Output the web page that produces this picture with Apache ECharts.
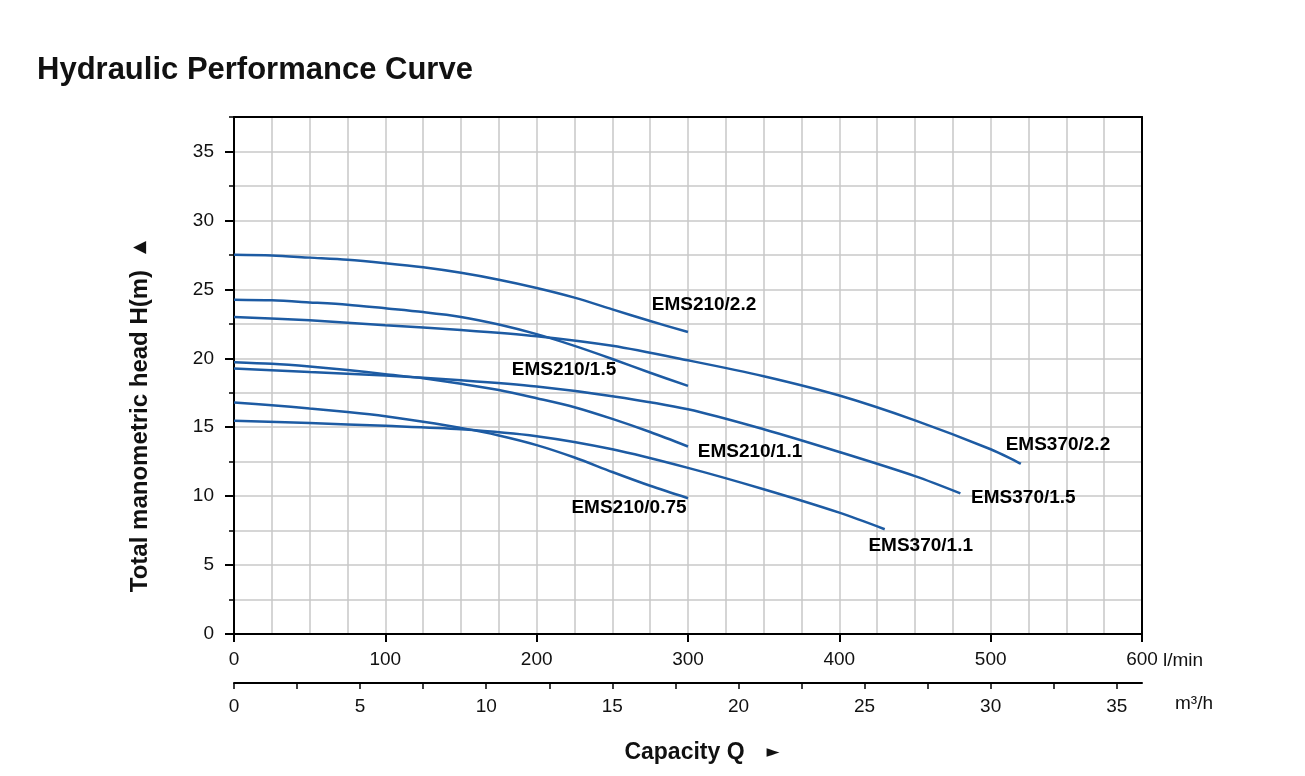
<!DOCTYPE html>
<html>
<head>
<meta charset="utf-8">
<title>Hydraulic Performance Curve</title>
<script src="https://cdn.jsdelivr.net/npm/echarts@6/dist/echarts.min.js"></script>
<style>
  html, body { margin: 0; padding: 0; background: #fff; }
  #main { width: 1305px; height: 776px; }
</style>
</head>
<body>
<div id="main"></div>
<script>
// capacity in l/min, head in m
const q210 = [0, 25, 50, 75, 100, 125, 150, 175, 200, 225, 250, 275, 300];
const h210_22 = [27.5, 27.45, 27.3, 27.15, 26.9, 26.6, 26.2, 25.7, 25.1, 24.4, 23.55, 22.7, 21.9];
const h210_15 = [24.25, 24.2, 24.05, 23.88, 23.62, 23.35, 23.0, 22.45, 21.75, 20.9, 19.95, 18.95, 18.0];
const h210_11 = [19.72, 19.6, 19.4, 19.15, 18.85, 18.55, 18.15, 17.7, 17.1, 16.45, 15.6, 14.65, 13.6];
const h210_075 = [16.8, 16.6, 16.35, 16.1, 15.8, 15.4, 14.95, 14.4, 13.7, 12.8, 11.75, 10.75, 9.85];

const q370_22 = [0, 50, 100, 150, 200, 250, 300, 350, 400, 450, 500, 520];
const h370_22 = [23.0, 22.75, 22.4, 22.05, 21.6, 20.9, 19.85, 18.7, 17.3, 15.5, 13.4, 12.35];
const q370_15 = [0, 50, 100, 150, 200, 250, 300, 350, 400, 450, 480];
const h370_15 = [19.25, 19.0, 18.75, 18.4, 17.95, 17.25, 16.3, 14.85, 13.2, 11.45, 10.2];
const q370_11 = [0, 50, 100, 150, 200, 250, 300, 350, 400, 430];
const h370_11 = [15.47, 15.3, 15.1, 14.85, 14.35, 13.4, 12.05, 10.5, 8.8, 7.6];

const names = ['EMS210/2.2', 'EMS210/1.5', 'EMS210/1.1', 'EMS210/0.75', 'EMS370/2.2', 'EMS370/1.5', 'EMS370/1.1'];
const flows = [q210, q210, q210, q210, q370_22, q370_15, q370_11];
const heads = [h210_22, h210_15, h210_11, h210_075, h370_22, h370_15, h370_11];

// tick values
const headLabels = [0, 5, 10, 15, 20, 25, 30, 35];
const m3hLabels = [0, 5, 10, 15, 20, 25, 30, 35];
const m3hTicks = [0, 2.5, 5, 7.5, 10, 12.5, 15, 17.5, 20, 22.5, 25, 27.5, 30, 32.5, 35];

// where each curve name sits relative to the curve end (px)
const labelOffsets = [[16, -27], [-124, -16], [62, 5], [-59, 10], [37, -19], [63, 4], [36, 17]];

const FONT = '"Liberation Sans", Arial, Helvetica, sans-serif';
const BLUE = '#1d5ba3';
const GRIDLINE = { color: '#c8c8c8', width: 1.5 };
const FRAME = { color: '#000', width: 2 };

const chart = echarts.init(document.getElementById('main'), null, { renderer: 'canvas' });

const lineSeries = names.map((name, i) => ({
  name: name,
  type: 'line',
  xAxisIndex: 0,
  yAxisIndex: 0,
  data: flows[i].map((q, j) => [q, heads[i][j]]),
  smooth: 0.3,
  showSymbol: false,
  symbol: 'none',
  lineStyle: { color: BLUE, width: 2.5 },
  silent: true,
  z: 3
}));

const labelSeries = {
  type: 'scatter',
  xAxisIndex: 0,
  yAxisIndex: 0,
  symbolSize: 1,
  itemStyle: { color: 'transparent', opacity: 1 },
  emphasis: { disabled: true },
  silent: true,
  z: 4,
  data: names.map((name, i) => {
    const q = flows[i], h = heads[i];
    return {
      value: [q[q.length - 1], h[h.length - 1]],
      label: {
        show: true,
        formatter: name,
        position: 'inside',
        offset: labelOffsets[i],
        fontSize: 19,
        fontWeight: 'bold',
        fontFamily: FONT,
        color: '#000',
        opacity: 1,
        textBorderWidth: 0
      }
    };
  })
};

const option = {
  backgroundColor: '#ffffff',
  animation: false,
  textStyle: { fontFamily: FONT },
  title: {
    text: 'Hydraulic Performance Curve',
    left: 32,
    top: 50,
    textStyle: { fontSize: 31, fontWeight: 'bold', color: '#111', fontFamily: FONT }
  },
  grid: {
    left: 234,
    right: 163,
    top: 117,
    bottom: 142,
    show: true,
    borderWidth: 0,
    backgroundColor: '#fff'
  },
  xAxis: [{
    type: 'value',
    position: 'bottom',
    min: 0,
    max: 600,
    interval: 100,
    z: 2,
    axisLine: { lineStyle: FRAME },
    axisTick: { length: 8, lineStyle: { color: '#000', width: 2 } },
    axisLabel: { fontSize: 19, color: '#111', margin: 16, fontFamily: FONT },
    splitLine: { show: true, lineStyle: GRIDLINE },
    minorTick: { show: false, splitNumber: 4 },
    minorSplitLine: { show: true, lineStyle: GRIDLINE }
  }, {
    type: 'value',
    position: 'bottom',
    offset: 49,
    min: 0,
    max: 36,
    interval: 5,
    axisLine: { onZero: false, lineStyle: FRAME },
    axisTick: { length: 6, customValues: m3hTicks, lineStyle: { color: '#000', width: 1.5 } },
    axisLabel: { fontSize: 19, color: '#111', margin: 14, customValues: m3hLabels, fontFamily: FONT },
    splitLine: { show: false },
    name: '{t|Capacity Q}{a|►}',
    nameLocation: 'middle',
    nameGap: 58,
    nameTextStyle: {
      padding: [0, 0, 0, 28],
      rich: {
        t: { fontSize: 23, fontWeight: 'bold', color: '#111', fontFamily: FONT },
        a: { fontSize: 17, color: '#111', padding: [0, 0, 0, 22], fontFamily: '"DejaVu Sans", sans-serif' }
      }
    }
  }, {
    // top edge of the frame
    type: 'value',
    position: 'top',
    min: 0,
    max: 600,
    z: 5,
    axisLine: { show: true, onZero: false, lineStyle: FRAME },
    axisTick: { show: false },
    axisLabel: { show: false },
    splitLine: { show: false }
  }],
  yAxis: [{
    type: 'value',
    min: 0,
    max: 37.5,
    interval: 2.5,
    z: 2,
    axisLine: { onZero: false, lineStyle: FRAME },
    axisTick: { length: 9, customValues: headLabels, lineStyle: { color: '#000', width: 2 } },
    axisLabel: { fontSize: 19, color: '#111', margin: 20, customValues: headLabels, fontFamily: FONT },
    splitLine: { show: false },
    name: '{t|Total manometric head H(m)}{a|▲}',
    nameLocation: 'middle',
    nameGap: 82,
    nameTextStyle: {
      padding: [0, 82, 0, 0],
      rich: {
        t: { fontSize: 24, fontWeight: 'bold', color: '#111', fontFamily: FONT },
        a: { fontSize: 17, color: '#111', padding: [0, 0, 0, 16], fontFamily: '"DejaVu Sans", sans-serif' }
      }
    }
  }, {
    // carries the 2.5 m grid and short ticks
    type: 'value',
    min: 0,
    max: 37.5,
    interval: 2.5,
    position: 'left',
    axisLine: { show: false, onZero: false },
    axisTick: { show: true, length: 5, lineStyle: { color: '#000', width: 1.5 } },
    axisLabel: { show: false },
    splitLine: { show: true, lineStyle: GRIDLINE }
  }, {
    // right edge of the frame
    type: 'value',
    min: 0,
    max: 37.5,
    position: 'right',
    z: 5,
    axisLine: { show: true, onZero: false, lineStyle: FRAME },
    axisTick: { show: false },
    axisLabel: { show: false },
    splitLine: { show: false }
  }],
  graphic: [{
    type: 'text',
    left: 1163,
    top: 651,
    style: { text: 'l/min', fill: '#111', font: '19px ' + FONT }
  }, {
    type: 'text',
    left: 1175,
    top: 694,
    style: { text: 'm³/h', fill: '#111', font: '19px ' + FONT }
  }],
  series: lineSeries.concat([labelSeries])
};

chart.setOption(option);
</script>
</body>
</html>
